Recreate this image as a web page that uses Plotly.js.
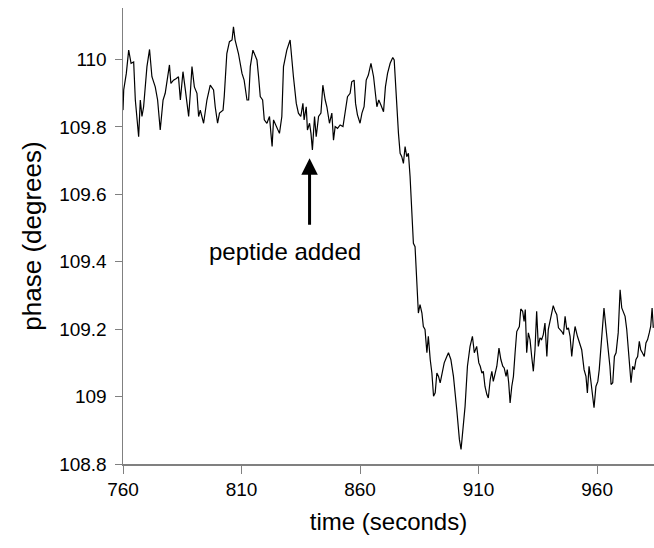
<!DOCTYPE html>
<html>
<head>
<meta charset="utf-8">
<script src="https://cdn.plot.ly/plotly-3.0.1.min.js"></script>
<style>
  html, body { margin: 0; padding: 0; background: #ffffff; }
  #chart { width: 654px; height: 548px; }
</style>
</head>
<body>
<div id="chart"></div>
<script>
// time (seconds)
const timeSeconds = [
  760.0, 760.3, 761.4, 762.4, 763.4, 764.5, 765.2, 766.6, 767.3, 768.0,
  768.7, 770.1, 771.2, 772.2, 773.6, 774.6, 775.7, 776.9, 777.8, 778.5,
  779.6, 780.2, 781.3, 782.5, 783.4, 784.2, 785.3, 786.3, 787.7, 788.4,
  789.1, 790.1, 791.2, 791.9, 792.6, 794.0, 795.4, 796.8, 798.2, 798.9,
  799.9, 800.7, 802.2, 802.7, 803.8, 804.9, 806.0, 806.6, 807.3, 808.7,
  810.2, 811.1, 812.3, 813.0, 813.7, 814.8, 815.8, 816.5, 817.2, 817.9,
  818.9, 819.6, 820.7, 821.8, 822.4, 822.9, 823.5, 824.9, 826.0, 827.0,
  827.7, 829.1, 830.5, 831.9, 833.1, 834.0, 835.0, 835.9, 836.4, 837.3,
  837.8, 838.7, 839.3, 839.9, 840.8, 841.5, 842.5, 843.5, 844.3, 845.3,
  846.0, 847.1, 848.1, 848.8, 849.5, 850.5, 851.6, 852.8, 853.7, 854.7,
  855.8, 856.5, 857.5, 858.1, 858.9, 860.0, 860.8, 861.7, 862.6, 863.5,
  864.6, 865.7, 867.1, 867.9, 868.8, 869.9, 870.7, 871.6, 872.7, 873.8,
  874.4, 875.2, 876.2, 876.9, 877.6, 878.3, 879.0, 879.7, 880.4, 881.1,
  881.8, 882.5, 883.2, 884.0, 884.6, 885.3, 886.1, 886.7, 887.4, 888.2,
  888.8, 889.6, 890.3, 891.0, 891.7, 892.4, 893.1, 893.8, 894.5, 895.5,
  896.6, 897.3, 898.3, 899.4, 900.8, 901.9, 902.6, 903.3, 904.3, 905.3,
  906.4, 907.4, 908.2, 909.2, 910.1, 910.7, 911.4, 912.0, 912.7, 913.5,
  914.1, 914.9, 915.6, 916.2, 917.0, 917.7, 918.6, 919.4, 920.2, 920.8,
  921.6, 922.1, 922.7, 923.3, 924.0, 924.7, 925.4, 926.1, 927.2, 927.8,
  928.6, 929.2, 929.7, 930.3, 931.0, 931.7, 932.4, 933.1, 933.8, 934.5,
  935.2, 935.9, 936.6, 937.3, 938.0, 938.8, 939.4, 940.1, 940.9, 941.5,
  942.3, 943.0, 943.7, 944.4, 945.1, 945.8, 946.5, 947.2, 947.9, 948.6,
  949.3, 950.0, 950.7, 951.7, 952.5, 953.5, 954.5, 955.3, 955.9, 956.6,
  957.3, 957.9, 958.7, 959.5, 960.3, 960.9, 961.9, 962.9, 963.8, 964.7,
  965.4, 965.9, 966.6, 967.3, 968.0, 968.9, 969.7, 970.4, 971.1, 971.8,
  972.5, 973.2, 973.9, 974.3, 975.0, 975.7, 976.4, 977.1, 977.8, 978.4,
  979.1, 979.9, 980.6, 981.3, 982.0, 982.6, 983.2, 983.7
];

// phase (degrees)
const phaseDegrees = [
  109.850, 109.910, 109.959, 110.028, 109.989, 109.993, 109.880, 109.771, 109.880, 109.831,
  109.860, 109.979, 110.030, 109.949, 109.919, 109.880, 109.791, 109.880, 109.900, 109.929,
  109.984, 109.929, 109.939, 109.944, 109.949, 109.880, 109.964, 109.910, 109.831, 109.900,
  109.979, 109.919, 109.900, 109.831, 109.850, 109.811, 109.880, 109.924, 109.910, 109.860,
  109.811, 109.841, 109.850, 109.890, 110.018, 110.053, 110.058, 110.097, 110.058, 110.018,
  109.959, 109.939, 109.880, 109.880, 109.979, 110.028, 110.008, 109.999, 109.949, 109.890,
  109.880, 109.821, 109.811, 109.831, 109.781, 109.742, 109.821, 109.801, 109.781, 109.831,
  109.979, 110.028, 110.058, 109.949, 109.870, 109.841, 109.831, 109.870, 109.821, 109.860,
  109.791, 109.811, 109.781, 109.732, 109.831, 109.771, 109.831, 109.841, 109.924, 109.880,
  109.860, 109.811, 109.841, 109.761, 109.801, 109.796, 109.806, 109.801, 109.841, 109.890,
  109.900, 109.934, 109.939, 109.870, 109.836, 109.811, 109.841, 109.860, 109.939, 109.954,
  109.989, 109.949, 109.860, 109.880, 109.865, 109.845, 109.919, 109.959, 109.989, 110.006,
  109.999, 109.890, 109.781, 109.722, 109.712, 109.692, 109.742, 109.712, 109.722, 109.653,
  109.554, 109.455, 109.445, 109.327, 109.248, 109.273, 109.248, 109.208, 109.199, 109.130,
  109.179, 109.110, 109.070, 109.001, 109.011, 109.070, 109.060, 109.041, 109.070, 109.100,
  109.119, 109.130, 109.110, 109.060, 108.961, 108.873, 108.843, 108.892, 108.971, 109.090,
  109.149, 109.179, 109.130, 109.149, 109.100, 109.090, 109.070, 109.075, 109.030, 109.006,
  108.996, 109.050, 109.075, 109.045, 109.075, 109.090, 109.144, 109.110, 109.090, 109.085,
  109.060, 109.080, 109.041, 108.981, 109.030, 109.060, 109.130, 109.193, 109.208, 109.260,
  109.253, 109.223, 109.258, 109.130, 109.189, 109.169, 109.119, 109.075, 109.139, 109.253,
  109.149, 109.174, 109.169, 109.184, 109.218, 109.119, 109.199, 109.223, 109.253, 109.270,
  109.253, 109.243, 109.204, 109.199, 109.193, 109.184, 109.238, 109.199, 109.204, 109.179,
  109.119, 109.169, 109.208, 109.179, 109.159, 109.139, 109.080, 109.060, 109.011, 109.090,
  109.050, 109.021, 108.967, 109.030, 109.045, 109.080, 109.169, 109.263, 109.199, 109.139,
  109.090, 109.036, 109.041, 109.119, 109.130, 109.189, 109.317, 109.263, 109.248, 109.238,
  109.199, 109.139, 109.060, 109.041, 109.090, 109.080, 109.110, 109.119, 109.164, 109.139,
  109.130, 109.119, 109.159, 109.169, 109.189, 109.208, 109.263, 109.204
];

const xTickValues = [760, 810, 860, 910, 960];
const xTickLabels = ["760", "810", "860", "910", "960"];
const yTickValues = [108.8, 109, 109.2, 109.4, 109.6, 109.8, 110];
const yTickLabels = ["108.8", "109", "109.2", "109.4", "109.6", "109.8", "110"];

const annotationText = "peptide added";
const annotationTip = { x: 838.7, y: 109.707 };
const annotationLabel = { x: 828.4, y: 109.43 };

const FONT = "Liberation Sans, Arial, Helvetica, sans-serif";

const trace = {
  x: timeSeconds,
  y: phaseDegrees,
  type: "scatter",
  mode: "lines",
  line: { color: "#000000", width: 1.2 },
  hoverinfo: "x+y"
};

const layout = {
  width: 654,
  height: 548,
  margin: { l: 123, r: 0, t: 8, b: 84, pad: 0 },
  paper_bgcolor: "#ffffff",
  plot_bgcolor: "#ffffff",
  showlegend: false,
  font: { family: FONT, color: "#000000", size: 20 },
  xaxis: {
    range: [760, 984],
    tickmode: "array",
    tickvals: xTickValues,
    ticktext: xTickLabels,
    ticks: "outside",
    ticklen: 8,
    tickwidth: 1,
    tickcolor: "#808080",
    showline: true,
    linecolor: "#808080",
    linewidth: 1.5,
    showgrid: false,
    zeroline: false,
    tickfont: { family: FONT, size: 19, color: "#000000" },
    title: { text: "time (seconds)", font: { family: FONT, size: 24, color: "#000000" }, standoff: 14 }
  },
  yaxis: {
    range: [108.8, 110.153],
    tickmode: "array",
    tickvals: yTickValues,
    ticktext: yTickLabels,
    ticks: "outside",
    ticklen: 7,
    tickwidth: 1,
    tickcolor: "#808080",
    showline: true,
    linecolor: "#808080",
    linewidth: 1.5,
    showgrid: false,
    zeroline: false,
    ticklabelstandoff: 4,
    tickfont: { family: FONT, size: 19, color: "#000000" },
    title: { text: "phase (degrees)", font: { family: FONT, size: 26, color: "#000000" }, standoff: 10 }
  },
  annotations: [
    {
      x: annotationTip.x, y: annotationTip.y, xref: "x", yref: "y",
      text: "", showarrow: true, arrowhead: 2, arrowsize: 1.1, arrowwidth: 3,
      arrowcolor: "#000000", ax: 0, ay: 68, axref: "pixel", ayref: "pixel",
      standoff: 0
    },
    {
      x: annotationLabel.x, y: annotationLabel.y, xref: "x", yref: "y",
      text: annotationText, showarrow: false,
      font: { family: FONT, size: 24, color: "#000000" },
      xanchor: "center", yanchor: "middle"
    }
  ]
};

Plotly.newPlot("chart", [trace], layout, { displayModeBar: false, staticPlot: true });
</script>
</body>
</html>
